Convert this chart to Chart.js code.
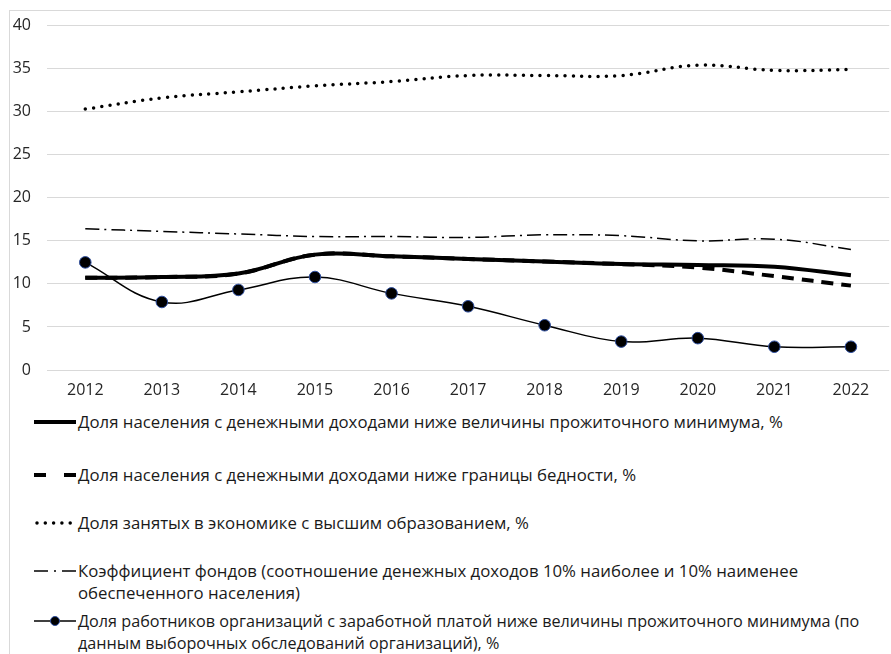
<!DOCTYPE html>
<html>
<head>
<meta charset="utf-8">
<script src="https://cdn.jsdelivr.net/npm/chart.js@4"></script>
<style>
  html, body { margin: 0; padding: 0; background: #fff; overflow: hidden; }
  body { width: 891px; height: 654px; position: relative; font-family: "Open Sans", sans-serif; }
  #frame { position: absolute; left: 9px; top: 10px; width: 900px; height: 700px; border: 1px solid #d9d9d9; box-sizing: border-box; }
  #chart { position: absolute; left: 0; top: 0; }
  .item { position: absolute; left: 78px; font-size: 16.8px; line-height: 22px; color: #1a1a1a; white-space: nowrap; }
  .item.tight { font-size: 16.2px; }
  .item svg { position: absolute; left: -44px; top: 6px; }
</style>
</head>
<body>
<div id="frame"></div>
<canvas id="chart" width="896" height="410"></canvas>
<div id="legend"></div>
<script>
// values
const years = ['2012', '2013', '2014', '2015', '2016', '2017', '2018', '2019', '2020', '2021', '2022'];
const belowSubsistence = [10.7, 10.8, 11.2, 13.4, 13.2, 12.9, 12.6, 12.3, 12.2, 12.0, 11.0];
const belowPoverty = [10.7, 10.8, 11.2, 13.4, 13.2, 12.9, 12.6, 12.3, 11.9, 10.9, 9.8];
const higherEducation = [30.3, 31.6, 32.3, 33.0, 33.5, 34.2, 34.2, 34.2, 35.4, 34.8, 34.9];
const fundsRatio = [16.4, 16.1, 15.8, 15.5, 15.5, 15.4, 15.7, 15.6, 15.0, 15.2, 14.0];
const workersBelow = [12.5, 7.9, 9.3, 10.8, 8.9, 7.4, 5.2, 3.3, 3.7, 2.7, 2.7];

const labels = [
    'Доля населения с денежными доходами ниже величины прожиточного минимума, %',
    'Доля населения с денежными доходами ниже границы бедности, %',
    'Доля занятых в экономике с высшим образованием, %',
    'Коэффициент фондов (соотношение денежных доходов 10% наиболее и 10% наименее<br>обеспеченного населения)',
    'Доля работников организаций с заработной платой ниже величины прожиточного минимума (по<br>данным выборочных обследований организаций), %'
];

const ctx = document.getElementById('chart').getContext('2d');
new Chart(ctx, {
    type: 'line',
    data: {
        labels: years,
        datasets: [
            {
                data: belowSubsistence,
                borderColor: '#000',
                borderWidth: 4,
                pointRadius: 0,
                tension: 0.4
            },
            {
                data: belowPoverty,
                borderColor: '#000',
                borderWidth: 4,
                borderDash: [12, 8],
                pointRadius: 0,
                tension: 0.4
            },
            {
                data: higherEducation,
                borderColor: '#000',
                borderWidth: 3.5,
                borderDash: [0, 8.3],
                borderCapStyle: 'round',
                pointRadius: 0,
                tension: 0.4
            },
            {
                data: fundsRatio,
                borderColor: '#000',
                borderWidth: 1.5,
                borderDash: [14, 5, 2, 5],
                pointRadius: 0,
                tension: 0.4
            },
            {
                data: workersBelow,
                borderColor: '#000',
                borderWidth: 1.5,
                pointRadius: 5.8,
                pointBackgroundColor: '#000',
                pointBorderColor: '#2f4f9f',
                pointBorderWidth: 1,
                tension: 0.4
            }
        ]
    },
    options: {
        responsive: false,
        animation: false,
        devicePixelRatio: 1,
        layout: { padding: { top: 24, right: 1, left: 0, bottom: 0 } },
        plugins: {
            legend: { display: false },
            tooltip: { enabled: false }
        },
        scales: {
            x: {
                offset: true,
                grid: { display: false, drawTicks: false },
                border: { display: false },
                ticks: { padding: 11, color: '#262626', font: { family: 'Open Sans', size: 16 } },
                afterFit: (scale) => { scale.height = 40; }
            },
            y: {
                min: 0,
                max: 40,
                grid: { color: '#d9d9d9', lineWidth: 1, drawTicks: false },
                border: { display: false },
                ticks: { stepSize: 5, padding: 16, color: '#262626', font: { family: 'Open Sans', size: 16 } },
                afterFit: (scale) => { scale.width = 47; }
            }
        }
    }
});

// html legend under the chart
const samples = [
    '<line x1="0" y1="5" x2="42" y2="5" stroke="#000" stroke-width="4"/>',
    '<line x1="0" y1="5" x2="42" y2="5" stroke="#000" stroke-width="4" stroke-dasharray="12 18"/><line x1="32" y1="5" x2="42" y2="5" stroke="#000" stroke-width="4"/>',
    '<line x1="3" y1="5" x2="42" y2="5" stroke="#000" stroke-width="3.5" stroke-linecap="round" stroke-dasharray="0 8.3"/>',
    '<line x1="0" y1="5" x2="42" y2="5" stroke="#000" stroke-width="1.5" stroke-dasharray="14 6 2 6"/>',
    '<line x1="0" y1="5" x2="42" y2="5" stroke="#000" stroke-width="1.5"/><circle cx="21" cy="5" r="4.5" fill="#000" stroke="#2f4f9f" stroke-width="1"/>'
];
const tops = [411, 464, 512, 560, 610];
const legendEl = document.getElementById('legend');
labels.forEach((text, i) => {
    const div = document.createElement('div');
    div.className = i === 4 ? 'item tight' : 'item';
    div.style.top = tops[i] + 'px';
    div.innerHTML = '<svg width="42" height="10">' + samples[i] + '</svg>' + text;
    legendEl.appendChild(div);
});
</script>
</body>
</html>
